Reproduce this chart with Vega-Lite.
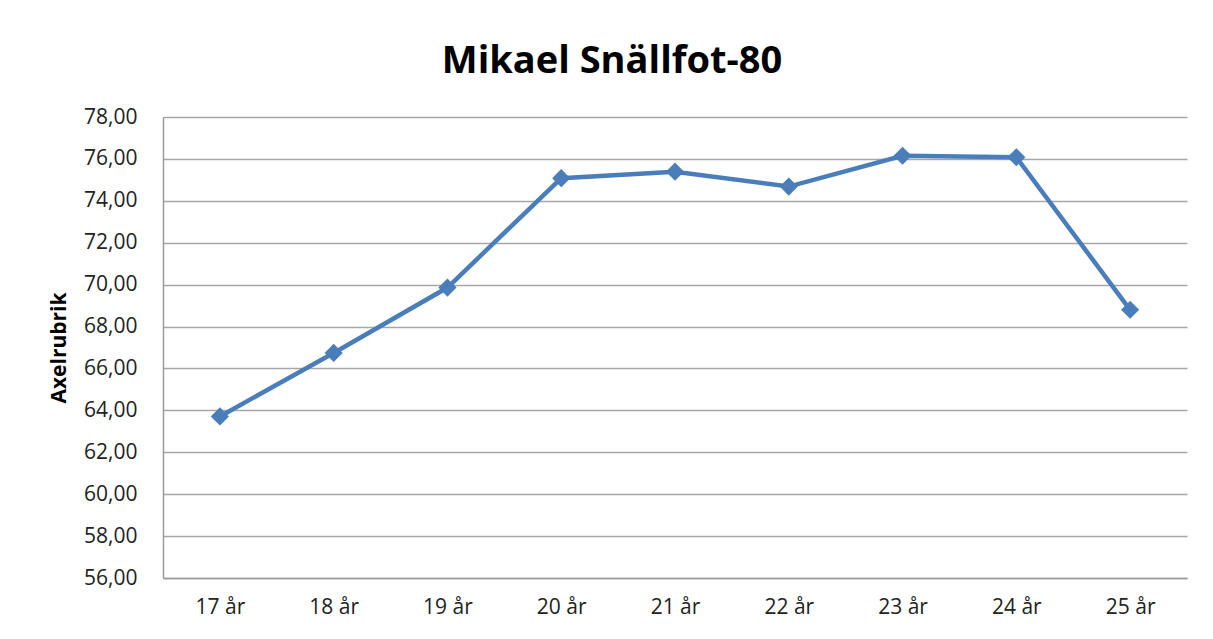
{
  "$schema": "https://vega.github.io/schema/vega-lite/v6.json",
  "autosize": {"type": "none"},
  "padding": {"left": 163, "top": 117, "right": 26, "bottom": 61},
  "width": 1024,
  "height": 461,
  "background": "white",
  "title": {
    "text": "Mikael Snällfot-80",
    "font": "Open Sans",
    "fontSize": 38,
    "fontWeight": "bold",
    "color": "#000000",
    "anchor": "middle",
    "baseline": "alphabetic",
    "offset": 40,
    "dy": 45,
    "dx": -63
  },
  "data": {
    "values": [
      {"age": "17 år", "value": 63.71},
      {"age": "18 år", "value": 66.74},
      {"age": "19 år", "value": 69.86},
      {"age": "20 år", "value": 75.08},
      {"age": "21 år", "value": 75.39},
      {"age": "22 år", "value": 74.68},
      {"age": "23 år", "value": 76.15},
      {"age": "24 år", "value": 76.08},
      {"age": "25 år", "value": 68.80}
    ]
  },
  "encoding": {
    "x": {
      "field": "age",
      "type": "ordinal",
      "sort": null,
      "scale": {"type": "point", "padding": 0.5},
      "axis": {
        "title": null,
        "labelAngle": 0,
        "labelFont": "Open Sans",
        "labelFontSize": 21,
        "labelColor": "#222222",
        "labelPadding": 18,
        "ticks": false,
        "domainColor": "#9a9a9a",
        "domainWidth": 1.5,
        "grid": false
      }
    },
    "y": {
      "field": "value",
      "type": "quantitative",
      "scale": {"domain": [56, 78], "nice": false, "zero": false},
      "axis": {
        "title": "Axelrubrik",
        "titleFont": "Open Sans",
        "titleFontSize": 21,
        "titleFontWeight": "bold",
        "titleColor": "#000000",
        "titlePadding": 14,
        "values": [56, 58, 60, 62, 64, 66, 68, 70, 72, 74, 76, 78],
        "labelExpr": "replace(format(datum.value, '.2f'), '.', ',')",
        "labelFont": "Open Sans",
        "labelFontSize": 21,
        "labelColor": "#222222",
        "labelPadding": 26,
        "ticks": false,
        "domainColor": "#9a9a9a",
        "domainWidth": 1.5,
        "grid": true,
        "gridColor": "#a6a6a6",
        "gridWidth": 1.3
      }
    }
  },
  "layer": [
    {
      "mark": {"type": "line", "color": "#4a7ebb", "strokeWidth": 4.5}
    },
    {
      "mark": {"type": "point", "shape": "diamond", "filled": true, "size": 330, "color": "#4a7ebb", "opacity": 1}
    }
  ],
  "config": {
    "view": {"stroke": null}
  }
}
